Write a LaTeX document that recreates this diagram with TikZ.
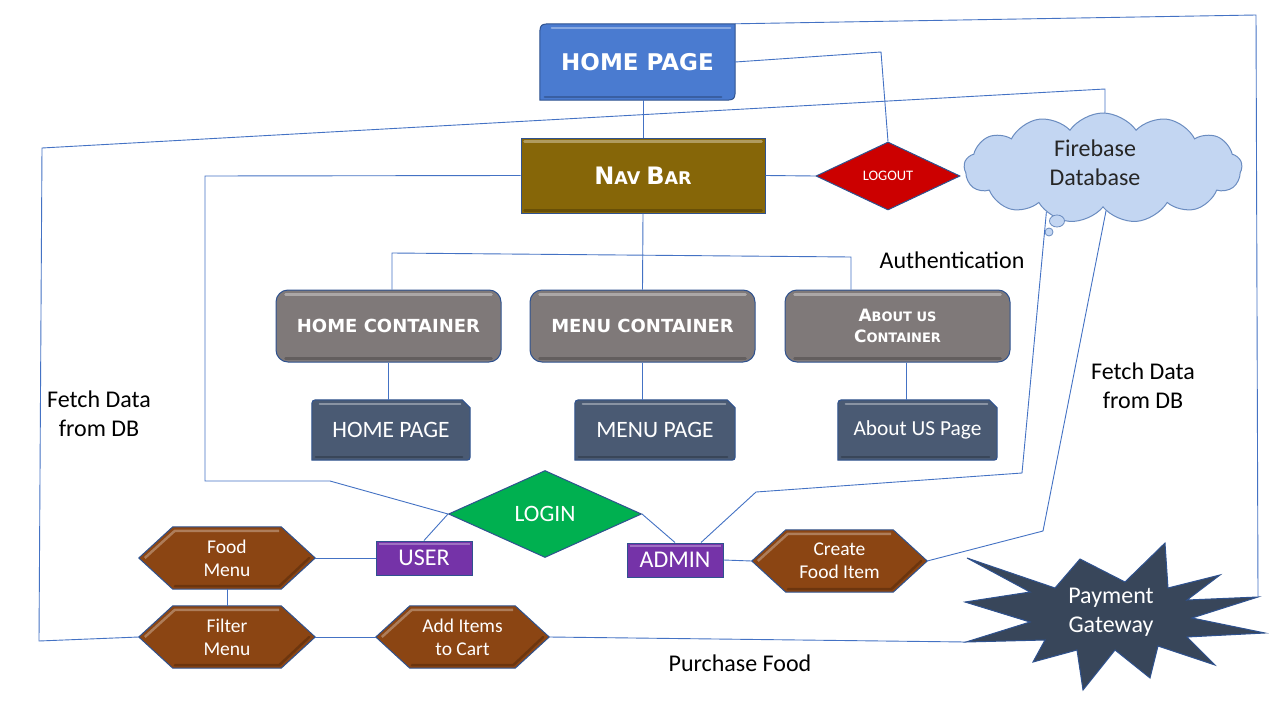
\documentclass[tikz,border=0pt]{standalone}
\usepackage{fontspec}
\setmainfont{Carlito}
\newfontfamily\headfont{DejaVu Sans}
\usetikzlibrary{shapes.geometric,shapes.symbols}
\definecolor{linkblue}{HTML}{4472C4}
\definecolor{edgeblue}{HTML}{2F528F}
\definecolor{topblue}{HTML}{4A7BD0}
\definecolor{navbrown}{HTML}{866608}
\definecolor{logred}{HTML}{CC0000}
\definecolor{cloudfill}{HTML}{C3D6F2}
\definecolor{cloudedge}{HTML}{6A8CC0}
\definecolor{contgray}{HTML}{7F7979}
\definecolor{pageblue}{HTML}{4A5A73}
\definecolor{loggreen}{HTML}{00B050}
\definecolor{rolepurple}{HTML}{7533A8}
\definecolor{hexbrown}{HTML}{8B4513}
\definecolor{stardark}{HTML}{38465A}
\pgfdeclarelayer{bg}
\pgfdeclarelayer{paper}
\pgfsetlayers{paper,bg,main}
\begin{document}
\begin{tikzpicture}[x=1pt,y=-1pt,
  conn/.style={draw=linkblue,line width=0.9pt},
  plain/.style={rectangle,inner sep=0pt,align=center,text=white},
  outline/.style={draw=edgeblue,line width=1pt},
  contbox/.style={rectangle,rounded corners=12pt,fill=contgray,outline,minimum width=225pt,minimum height=72pt,inner sep=0pt,align=center,text=white,font=\headfont\bfseries\fontsize{18}{22}\selectfont},
  pagebox/.style={plain,minimum height=60pt,font=\fontsize{23.5}{27}\selectfont},
  rolebox/.style={rectangle,fill=rolepurple,outline,minimum width=96pt,minimum height=34pt,inner sep=0pt,text=white,font=\fontsize{24}{27}\selectfont},
  hexbox/.style={plain,minimum height=62pt,font=\fontsize{19.5}{23}\selectfont},
  hexfill/.style={fill=hexbrown,outline},
  lbl/.style={align=center,text=black,font=\fontsize{24}{29}\selectfont},
  shine/.style={draw=white,opacity=0.35,line width=2.5pt,line cap=round},
  shade/.style={draw=black,opacity=0.22,line width=2.5pt,line cap=round}
]
\useasboundingbox (0,0) rectangle (1280,720);
\begin{pgfonlayer}{paper}
\fill[white] (0,0) rectangle (1280,720);
\end{pgfonlayer}

% ---------- nodes ----------
\node[plain,minimum width=195pt,minimum height=76pt,font=\headfont\bfseries\fontsize{23}{28}\selectfont] (hp) at (637.5,62) {HOME PAGE};
\node[plain,fill=navbrown,outline,minimum width=244pt,minimum height=75pt,font=\headfont\bfseries] (nb) at (643,175.5) {\fontsize{24}{28}\selectfont N\fontsize{17.5}{28}\selectfont AV \fontsize{24}{28}\selectfont B\fontsize{17.5}{28}\selectfont AR};
\node[diamond,fill=logred,outline,minimum width=144pt,minimum height=68pt,inner sep=0pt,text=white,font=\fontsize{14.5}{16}\selectfont] (lo) at (888,176) {LOGOUT};
\node[cloud,cloud puffs=13,cloud puff arc=110,aspect=2.5,minimum width=278pt,minimum height=110pt,fill=cloudfill,draw=cloudedge,line width=1pt,inner sep=0pt,
  label={[align=center,text=black!85,font=\fontsize{24}{29}\selectfont,xshift=-8pt,yshift=5pt]center:Firebase\\Database}] (db) at (1103,168) {};
\node[ellipse,fill=cloudfill,draw=cloudedge,line width=0.8pt,minimum width=15pt,minimum height=12pt,inner sep=0pt] (bub1) at (1057,221) {};
\node[circle,fill=cloudfill,draw=cloudedge,line width=0.8pt,minimum size=8pt,inner sep=0pt] (bub2) at (1049,232) {};

\node[contbox] (hc) at (388.5,326) {HOME CONTAINER};
\node[contbox] (mc) at (642.5,326) {MENU CONTAINER};
\node[contbox] (ac) at (897.5,326) {\fontsize{17}{22}\selectfont A\fontsize{13}{22}\selectfont BOUT US\\[-1pt]\fontsize{17}{22}\selectfont C\fontsize{13}{22}\selectfont ONTAINER};

\node[pagebox,minimum width=158pt] (hpg) at (391,430) {HOME PAGE};
\node[pagebox,minimum width=160pt] (mpg) at (655,430) {MENU PAGE};
\node[pagebox,minimum width=159pt,font=\fontsize{21.4}{25}\selectfont] (apg) at (917.5,430) {About US Page};

\node[diamond,fill=loggreen,outline,minimum width=193pt,minimum height=87pt,inner sep=0pt,text=white,font=\fontsize{23.5}{26}\selectfont] (login) at (545,514) {LOGIN};
\node[rolebox] (user) at (424,558) {USER};
\node[rolebox] (admin) at (675,560) {ADMIN};

\node[hexbox,minimum width=176pt] (fm) at (227,558) {Food\\Menu};
\node[hexbox,minimum width=176pt] (flm) at (227,637) {Filter\\Menu};
\node[hexbox,minimum width=173pt] (add) at (462.5,637) {Add Items\\to Cart};
\node[hexbox,minimum width=175pt] (cfi) at (839.5,561) {Create\\Food Item};

\node[plain,font=\fontsize{24}{29}\selectfont] (pg) at (1111,612) {Payment\\Gateway};
\coordinate (pgL) at (966,642);
\coordinate (pgR) at (1258,597);

\node[lbl] (auth) at (952,260) {Authentication};
\node[lbl] (fl) at (99,414) {Fetch Data\\from DB};
\node[lbl] (fr) at (1143,386) {Fetch Data\\from DB};
\node[lbl] (pf) at (740,663) {Purchase Food};

% ---------- background shapes ----------
\begin{pgfonlayer}{bg}
% top home page: round diagonal corners
\filldraw[fill=topblue,outline] (hp.south west) -- ([yshift=-14pt]hp.north west) .. controls (hp.north west) .. ([xshift=14pt]hp.north west) -- (hp.north east) -- ([yshift=14pt]hp.south east) .. controls (hp.south east) .. ([xshift=-14pt]hp.south east) -- cycle;
\draw[shine] ([shift={(12pt,-4pt)}]hp.north west) -- ([shift={(-5pt,-4pt)}]hp.north east);
\draw[shade] ([shift={(5pt,3pt)}]hp.south west) -- ([shift={(-14pt,3pt)}]hp.south east);
% pages: round top-left, snip top-right
\foreach \n in {hpg,mpg,apg}{
  \filldraw[fill=pageblue,outline] (\n.south west) -- ([yshift=-8pt]\n.north west) .. controls (\n.north west) .. ([xshift=8pt]\n.north west) -- ([xshift=-8pt]\n.north east) -- ([yshift=-8pt]\n.north east) -- ([yshift=7pt]\n.south east) .. controls (\n.south east) .. ([xshift=-7pt]\n.south east) -- cycle;
  \draw[shine] ([shift={(8pt,-4pt)}]\n.north west) -- ([shift={(-10pt,-4pt)}]\n.north east);
  \draw[shade] ([shift={(4pt,3pt)}]\n.south west) -- ([shift={(-8pt,3pt)}]\n.south east);
}
% hexagons
\foreach \n in {fm,flm,add,cfi}{
  \filldraw[hexfill] (\n.west) -- ([xshift=34pt]\n.north west) -- ([xshift=-34pt]\n.north east) -- (\n.east) -- ([xshift=-34pt]\n.south east) -- ([xshift=34pt]\n.south west) -- cycle;
  \draw[draw=white,opacity=0.3,line width=2.5pt,line join=round] ([xshift=6pt]\n.west) -- ([shift={(36pt,-4pt)}]\n.north west) -- ([shift={(-36pt,-4pt)}]\n.north east);
  \draw[shade,line join=round] ([shift={(36pt,3pt)}]\n.south west) -- ([shift={(-36pt,3pt)}]\n.south east) -- ([xshift=-6pt]\n.east);
}
% payment gateway star
\filldraw[fill=stardark,outline,line join=miter]
  (967,558) -- (1055,588) -- (1080,559) -- (1125,582) -- (1165,543) -- (1168,588)
  -- (1220,575) -- (1187,600) -- (1258,597) -- (1192,618) -- (1265,633) -- (1187,637)
  -- (1215,665) -- (1158,646) -- (1150,678) -- (1115,650) -- (1083,690) -- (1077,650)
  -- (1033,662) -- (1045,640) -- (966,642) -- (1030,622) -- (965,602) -- (1030,592) -- cycle;
\end{pgfonlayer}
\draw[shine] ([shift={(4pt,-4pt)}]nb.north west) -- ([shift={(-4pt,-4pt)}]nb.north east);
\draw[shade] ([shift={(4pt,3pt)}]nb.south west) -- ([shift={(-4pt,3pt)}]nb.south east);
\foreach \n in {hc,mc,ac}{
  \draw[shine] ([shift={(10pt,-5pt)}]\n.north west) -- ([shift={(-10pt,-5pt)}]\n.north east);
  \draw[shade] ([shift={(10pt,4pt)}]\n.south west) -- ([shift={(-10pt,4pt)}]\n.south east);
}
\foreach \n in {user,admin}{
  \draw[draw=white,opacity=0.3,line width=2pt] ([shift={(3pt,-3pt)}]\n.north west) -- ([shift={(-3pt,-3pt)}]\n.north east);
}

% ---------- connectors ----------
\draw[conn] (nb.north |- hp.south) -- (nb.north);
\draw[conn] (hp.north east) -- (1256,15) -- (pgR);
\draw[conn] (hp.east) -- (881,52) -- (lo.north);
\draw[conn] (flm.west) -- (39,641) -- (42,148) -- (1105,89) -- (db.88);
\draw[conn] (nb.east) -- (lo.west);
\draw[conn] (nb.west) -- (205,176) -- (205,481) -- (330,481) -- (login.west);
\draw[conn] (nb.south) -- (mc.north);
\draw[conn] (hc.north -| 392,0) -- (392,253) -- (851,257) -- (ac.north -| 851,0);
\draw[conn] (hc.south) -- (hc.south |- hpg.north);
\draw[conn] (mc.south) -- (mc.south |- mpg.north);
\draw[conn] (ac.south -| 906,0) -- (apg.north -| 906,0);
\draw[conn] (login.west) -- (user.north);
\draw[conn] (login.east) -- (admin.north);
\draw[conn] ([xshift=26pt]admin.north) -- (756,492) -- (1022,473) -- (db.218);
\draw[conn] (admin.east) -- (cfi.west);
\draw[conn] (cfi.east) -- (1043,531) -- (db.274);
\draw[conn] (user.west) -- (fm.east);
\draw[conn] (fm.south) -- (flm.north);
\draw[conn] (flm.east) -- (add.west);
\draw[conn] (add.east) -- (pgL);
\end{tikzpicture}
\end{document}
